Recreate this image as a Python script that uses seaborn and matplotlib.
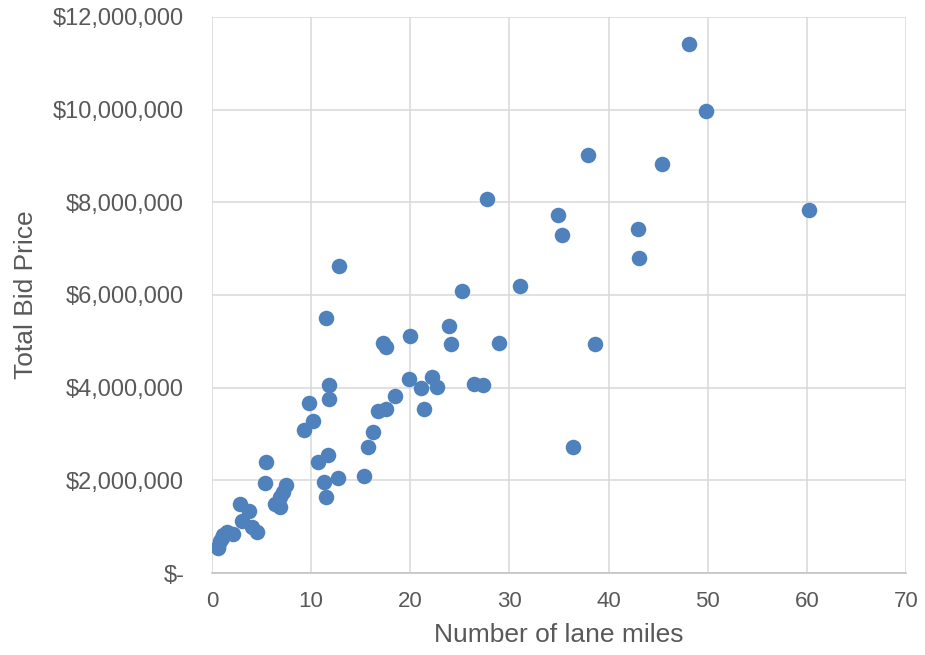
import matplotlib
matplotlib.use("Agg")
import matplotlib.pyplot as plt
import matplotlib.ticker as mticker
import seaborn as sns
import pandas as pd

lane_miles = [
    48.1, 49.8, 37.9, 45.4, 27.7, 60.2, 34.9, 43.0, 35.3, 12.8,
    43.1, 25.2, 31.1, 11.5, 23.9, 20.0, 17.2, 17.6, 24.1, 28.95,
    38.6, 11.8, 26.4, 27.3, 19.9, 22.2, 21.1, 22.7, 11.8, 18.5,
    9.8, 16.7, 17.6, 21.4, 10.2, 9.3, 16.2, 15.7, 36.4, 11.7,
    10.7, 5.4, 15.3, 12.7, 11.3, 5.35, 7.5, 11.5, 6.9, 7.2,
    6.4, 6.9, 2.8, 3.7, 3.0, 4.0, 4.5, 2.15, 1.5, 1.0,
    0.8, 0.64, 0.6, 1.14,
]
bid_price_millions = [
    11.42, 9.97, 9.02, 8.83, 8.08, 7.83, 7.72, 7.42, 7.30, 6.63,
    6.80, 6.09, 6.20, 5.50, 5.34, 5.12, 4.97, 4.88, 4.94, 4.97,
    4.94, 4.06, 4.07, 4.06, 4.19, 4.22, 4.00, 4.01, 3.75, 3.82,
    3.66, 3.50, 3.53, 3.55, 3.29, 3.08, 3.04, 2.71, 2.71, 2.55,
    2.40, 2.39, 2.10, 2.04, 1.97, 1.95, 1.89, 1.63, 1.65, 1.75,
    1.50, 1.43, 1.50, 1.34, 1.12, 0.99, 0.89, 0.84, 0.89, 0.75,
    0.68, 0.53, 0.57, 0.82,
]
x_ticks = [0, 10, 20, 30, 40, 50, 60, 70]
y_ticks = [0, 2e6, 4e6, 6e6, 8e6, 10e6, 12e6]

df = pd.DataFrame({
    "Number of lane miles": lane_miles,
    "Total Bid Price": [v * 1e6 for v in bid_price_millions],
})

sns.set_theme(style="white")
plt.rcParams["font.family"] = ["Liberation Sans", "DejaVu Sans"]

fig = plt.figure(figsize=(9.25, 6.55), dpi=100)
ax = fig.add_axes([212 / 925, 1 - 573 / 655, (906 - 212) / 925, (573 - 17) / 655])

sns.scatterplot(data=df, x="Number of lane miles", y="Total Bid Price", ax=ax,
                color="#4f81bd", s=125, linewidth=0, zorder=3)

ax.set_xlim(0, 70)
ax.set_ylim(0, 12e6)
ax.set_xticks(x_ticks)
ax.set_yticks(y_ticks)


def money(v, pos):
    if v == 0:
        return "$-"
    return "${:,.0f}".format(v)


ax.yaxis.set_major_formatter(mticker.FuncFormatter(money))
ax.grid(True, color="#d9d9d9", linewidth=1.1, zorder=0)
ax.set_axisbelow(True)
for side in ["top", "right", "left"]:
    ax.spines[side].set_visible(False)
ax.spines["bottom"].set_color("#bfbfbf")
ax.spines["bottom"].set_linewidth(1.1)

ax.tick_params(axis="both", length=0, labelcolor="#595959")
ax.tick_params(axis="y", pad=20, labelsize=17)
ax.tick_params(axis="x", pad=13, labelsize=16)
ax.set_xlabel("Number of lane miles", fontsize=19, color="#595959", labelpad=8)
ax.set_ylabel("Total Bid Price", fontsize=19, color="#595959", labelpad=11)

fig.savefig("out.png", dpi=100, facecolor="white")
